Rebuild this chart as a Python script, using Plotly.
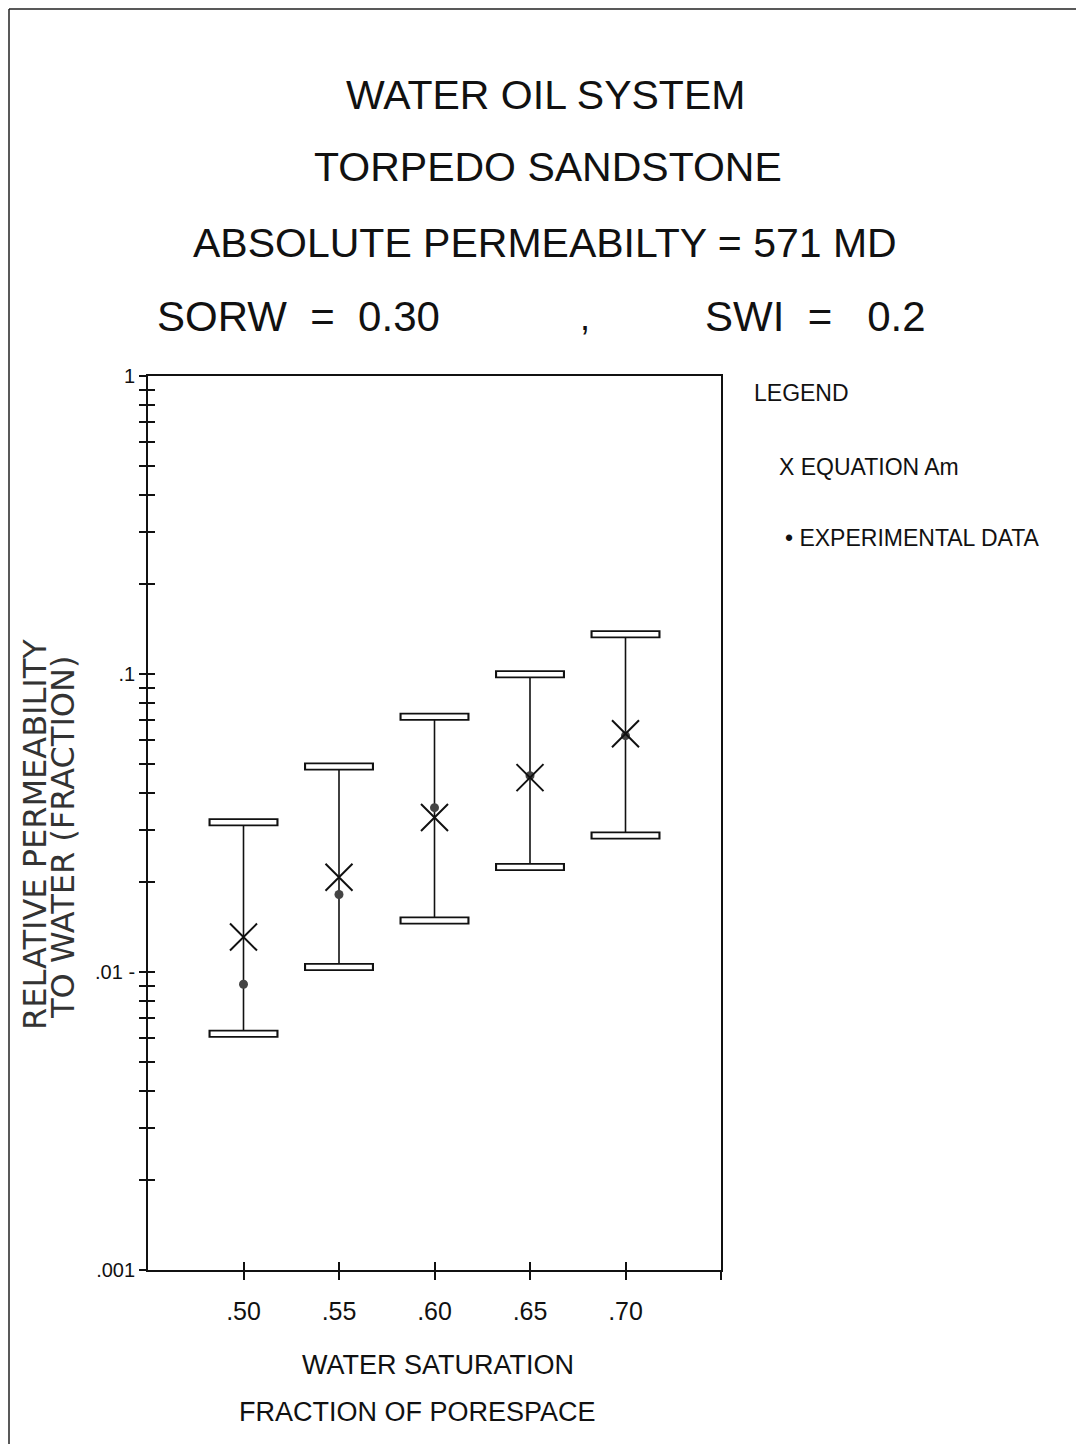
import plotly.graph_objects as go

# ---- data ----
saturation = [0.50, 0.55, 0.60, 0.65, 0.70]
equation_am = [0.0131, 0.0208, 0.0330, 0.0449, 0.0630]
experimental = [0.0091, 0.0182, 0.0356, 0.0456, 0.0621]
bar_upper = [0.0318, 0.0489, 0.0718, 0.0999, 0.136]
bar_lower = [0.0062, 0.0104, 0.0149, 0.0225, 0.0287]
x_tick_vals = [0.50, 0.55, 0.60, 0.65, 0.70]
x_tick_text = [".50", ".55", ".60", ".65", ".70"]
y_tick_vals = [0.001, 0.01, 0.1, 1]
y_tick_text = [".001", ".01 -", ".1", "1"]

OFF = 8  # page body margin
W, H = 1084 - OFF, 1444 - OFF
L, R, T, B = 148, 721, 376, 1270

def px(xp):
    return (xp - L) / (R - L)

def py(yp):
    return (B - yp) / (B - T)

NARROW = "Liberation Sans Narrow, Arial Narrow, Liberation Sans, sans-serif"
minor_vals = [m * 10 ** e for e in (-3, -2, -1) for m in range(2, 10)]

fig = go.Figure()

# error-bar stems
fig.add_trace(go.Scatter(
    x=saturation, y=bar_lower, mode="markers",
    marker=dict(size=1, color="rgba(0,0,0,0)"),
    error_y=dict(type="data", symmetric=False,
                 array=[u - l for u, l in zip(bar_upper, bar_lower)],
                 arrayminus=[0] * len(bar_lower),
                 width=0, thickness=1.6, color="#111"),
    showlegend=False, hoverinfo="skip"))

# hollow caps
caps_x = saturation + saturation
caps_y = bar_upper + bar_lower
fig.add_trace(go.Scatter(x=caps_x, y=caps_y, mode="markers",
    marker=dict(symbol="line-ew", size=50, line=dict(width=8, color="#111")),
    showlegend=False, hoverinfo="skip"))
fig.add_trace(go.Scatter(x=caps_x, y=caps_y, mode="markers",
    marker=dict(symbol="line-ew", size=47, line=dict(width=4.5, color="white")),
    showlegend=False, hoverinfo="skip"))

# experimental dots
fig.add_trace(go.Scatter(x=saturation, y=experimental, mode="markers",
    marker=dict(symbol="circle", size=9, color="#444"),
    name="EXPERIMENTAL DATA", showlegend=False))
# equation markers
fig.add_trace(go.Scatter(x=saturation, y=equation_am, mode="markers",
    marker=dict(symbol="x-thin-open", size=27, color="#111", line=dict(width=2, color="#111")),
    name="EQUATION Am", showlegend=False))

# helper trace for inside-tick axes
fig.add_trace(go.Scatter(x=[0.6], y=[0.01], xaxis="x2", yaxis="y2", mode="markers",
    marker=dict(size=1, color="rgba(0,0,0,0)"), showlegend=False, hoverinfo="skip"))

fig.update_layout(
    width=W, height=H,
    margin=dict(l=L - OFF, r=1084 - R, t=T - OFF, b=1444 - B),
    paper_bgcolor="white", plot_bgcolor="white",
    font=dict(family=NARROW, color="#111"),
    xaxis=dict(range=[0.45, 0.75], tickvals=x_tick_vals + [0.75], ticktext=x_tick_text + [""],
               ticks="outside", ticklen=8, tickwidth=1.5, tickcolor="#111",
               ticklabelstandoff=10,
               showline=True, linecolor="#111", linewidth=1.8, mirror=True,
               showgrid=False, zeroline=False,
               tickfont=dict(size=25, family=NARROW, color="#111")),
    yaxis=dict(type="log", range=[-3, 0], tickvals=y_tick_vals, ticktext=y_tick_text,
               ticks="outside", ticklen=7, tickwidth=1.5, tickcolor="#111",
               minor=dict(tickvals=minor_vals, ticks="outside", ticklen=7, tickwidth=1.5, tickcolor="#111"),
               showline=True, linecolor="#111", linewidth=1.8, mirror=True,
               showgrid=False, zeroline=False,
               tickfont=dict(size=20, family="Liberation Sans, Arial, sans-serif", color="#111")),
    xaxis2=dict(range=[0.45, 0.75], overlaying="x", tickvals=x_tick_vals, ticks="inside",
                ticklen=8, tickwidth=1.5, tickcolor="#111", showticklabels=False,
                showgrid=False, zeroline=False, showline=False),
    yaxis2=dict(type="log", range=[-3, 0], overlaying="y", side="left", tickvals=y_tick_vals,
                ticks="inside", ticklen=7, tickwidth=1.5, tickcolor="#111", showticklabels=False,
                minor=dict(tickvals=minor_vals, ticks="inside", ticklen=7, tickwidth=1.5, tickcolor="#111"),
                showgrid=False, zeroline=False, showline=False),
    shapes=[
        dict(type="line", xref="paper", yref="paper", x0=px(OFF + 1), x1=px(OFF + 1),
             y0=py(OFF + 1), y1=py(1444), line=dict(color="#222", width=1.5)),
        dict(type="line", xref="paper", yref="paper", x0=px(OFF + 1), x1=px(1084),
             y0=py(OFF + 1), y1=py(OFF + 1), line=dict(color="#222", width=1.5)),
    ],
)

def ann(text, x, y, size, xanchor="center", family=NARROW, angle=0, color="#111"):
    fig.add_annotation(text=text, x=px(x), y=py(y), xref="paper", yref="paper",
                       xanchor=xanchor, yanchor="middle", showarrow=False, textangle=angle,
                       font=dict(size=size, family=family, color=color))

ann("WATER OIL SYSTEM", 545, 95, 41)
ann("TORPEDO SANDSTONE", 548, 167, 41)
ann("ABSOLUTE PERMEABILTY = 571 MD", 545, 243, 41)
ann("SORW  =  0.30", 155, 316, 42, xanchor="left")
ann(",", 585, 318, 36)
ann("SWI  =   0.2", 703, 316, 42, xanchor="left")

ann("LEGEND", 752, 393, 23, xanchor="left")
ann("X EQUATION Am", 777, 467, 23, xanchor="left")
ann("\u2022 EXPERIMENTAL DATA", 783, 538, 23, xanchor="left")

ann("WATER SATURATION", 438, 1365, 27)
ann("FRACTION OF PORESPACE", 417, 1412, 27)

ann("RELATIVE PERMEABILITY", 35, 835, 32, family="DejaVu Sans, sans-serif", angle=-90, color="#333")
ann("TO WATER (FRACTION)", 63, 838, 32, family="DejaVu Sans, sans-serif", angle=-90, color="#333")

fig.write_html("out.html")
